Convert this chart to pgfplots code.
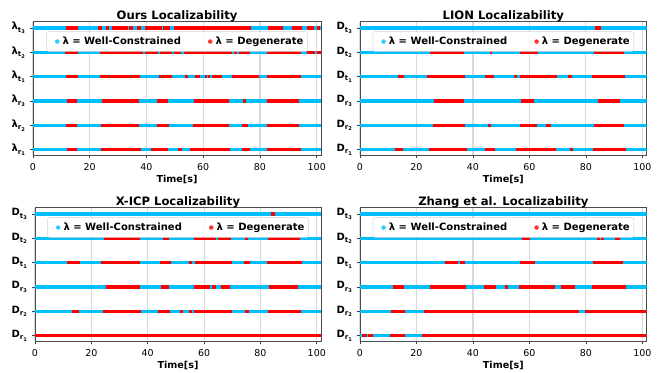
\documentclass[border=0pt]{standalone}
\usepackage{fontspec}
\setmainfont{DejaVu Sans}
\usepackage{pgfplots}
\pgfplotsset{compat=1.18}
\definecolor{cblue}{RGB}{0,191,255}
\definecolor{cred}{RGB}{255,0,0}
\newcommand{\lab}[3]{\textbf{#1\raisebox{-0.45ex}{\fontsize{5.2}{6}\selectfont\bfseries #2\raisebox{-0.35ex}{\fontsize{3.8}{4}\selectfont\bfseries #3}}}}
\pgfplotsset{
  loc/.style={
    scale only axis, width=215pt, height=100pt, anchor=south west,
    xmin=0, xmax=101.5, ymin=-0.22, ymax=5.26,
    xtick={0,20,...,100}, ytick={0,...,5},
    xmajorgrids, grid style={gray!30, line width=0.8pt},
    tick align=outside, tick pos=left, major tick length=2.6pt,
    tick style={black!75, line width=0.5pt},
    axis line style={black!70, line width=0.6pt},
    unbounded coords=jump,
    /pgf/number format/assume math mode=true,
    xticklabel style={font=\fontsize{7.1}{8}\selectfont},
    yticklabel style={font=\fontsize{7.5}{9}\selectfont},
    xlabel={\textbf{Time[s]}},
    xlabel style={font=\fontsize{7.2}{8}\selectfont, yshift=3pt},
    title style={font=\bfseries\fontsize{8.7}{10}\selectfont, yshift=-9.5pt},
    legend columns=2,
    legend style={at={(0.5,0.927)}, anchor=north, draw=gray!35, rounded corners=1.5pt,
      fill=white, fill opacity=0.8, text opacity=1, inner xsep=1pt, inner ysep=1.8pt,
      font=\bfseries\fontsize{7.5}{8.5}\selectfont,
      /tikz/every even column/.append style={column sep=13pt}},
    legend image code/.code={\path[draw=none,fill=none] (0pt,0pt) rectangle (9pt,0pt); \fill[##1, draw=none, rounded corners=0pt] (7pt,0pt) circle (1.7pt);},
    bl/.style={cblue, line width=2.4pt, forget plot},
    rd/.style={cred, line width=2.4pt, forget plot},
  }
}
\begin{document}
\begin{tikzpicture}
\useasboundingbox (0,0) rectangle (504pt,279pt);
% ---------------- Ours ----------------
\begin{axis}[loc, at={(24.75pt,162.75pt)}, width=216pt, title={Ours Localizability},
  yticklabels={\lab{λ}{r}{1},\lab{λ}{r}{2},\lab{λ}{r}{3},\lab{λ}{t}{1},\lab{λ}{t}{2},\lab{λ}{t}{3}}]
\addlegendimage{cblue}\addlegendentry{λ = Well-Constrained}
\addlegendimage{cred}\addlegendentry{λ = Degenerate}
\addplot[bl] coordinates {(0,0) (101.5,0)};
\addplot[bl] coordinates {(0,1) (101.5,1)};
\addplot[bl] coordinates {(0,2) (101.5,2)};
\addplot[bl] coordinates {(0,3) (101.5,3)};
\addplot[bl] coordinates {(0,4) (101.5,4)};
\addplot[bl] coordinates {(0,5) (101.5,5)};
\addplot[rd] coordinates {(11.5,5) (15.9,5) (0,nan) (23.0,5) (24.4,5) (0,nan) (25.9,5) (26.8,5) (0,nan) (27.7,5) (33.5,5) (0,nan) (34.0,5) (35.3,5) (0,nan) (36.5,5) (37.9,5) (0,nan) (39.6,5) (45.3,5) (0,nan) (45.7,5) (48.4,5) (0,nan) (49.6,5) (76.8,5) (0,nan) (82.8,5) (88.0,5) (0,nan) (91.4,5) (94.7,5) (0,nan) (96.7,5) (99.1,5) (0,nan) (100,5) (101.2,5)};
\addplot[rd] coordinates {(11.4,4) (15.9,4) (0,nan) (23.5,4) (38.8,4) (0,nan) (39.4,4) (44.2,4) (0,nan) (44.7,4) (49.0,4) (0,nan) (49.8,4) (52.3,4) (0,nan) (53.3,4) (70.3,4) (0,nan) (70.8,4) (71.9,4) (0,nan) (72.6,4) (76.4,4) (0,nan) (82.3,4) (94.6,4) (0,nan) (96.4,4) (99.3,4) (0,nan) (100,4) (101.4,4)};
\addplot[rd] coordinates {(11.5,3) (15.9,3) (0,nan) (23.5,3) (37.8,3) (0,nan) (44.4,3) (48.9,3) (0,nan) (53.7,3) (54.6,3) (0,nan) (57.0,3) (59.0,3) (0,nan) (60.6,3) (61.3,3) (0,nan) (61.8,3) (62.5,3) (0,nan) (63.0,3) (66.6,3) (0,nan) (70.1,3) (79.7,3) (0,nan) (82.4,3) (94.5,3)};
\addplot[rd] coordinates {(12.1,2) (15.4,2) (0,nan) (24.2,2) (37.4,2) (0,nan) (43.8,2) (47.5,2) (0,nan) (56.6,2) (69.0,2) (0,nan) (73.9,2) (75.0,2) (0,nan) (82.5,2) (93.8,2)};
\addplot[rd] coordinates {(11.8,1) (15.4,1) (0,nan) (24.1,1) (37.4,1) (0,nan) (43.7,1) (47.8,1) (0,nan) (56.5,1) (69.0,1) (0,nan) (73.6,1) (75.6,1) (0,nan) (82.4,1) (93.7,1)};
\addplot[rd] coordinates {(12.0,0) (15.6,0) (0,nan) (23.9,0) (38.0,0) (0,nan) (41.6,0) (47.7,0) (0,nan) (51.0,0) (52.4,0) (0,nan) (55.2,0) (69.3,0) (0,nan) (73.8,0) (76.4,0) (0,nan) (82.5,0) (94.4,0)};
\end{axis}
% ---------------- LION ----------------
\begin{axis}[loc, at={(270pt,162.75pt)}, title={LION Localizability},
  yticklabels={\lab{D}{r}{1},\lab{D}{r}{2},\lab{D}{r}{3},\lab{D}{t}{1},\lab{D}{t}{2},\lab{D}{t}{3}}]
\addlegendimage{cblue}\addlegendentry{λ = Well-Constrained}
\addlegendimage{cred}\addlegendentry{λ = Degenerate}
\addplot[bl] coordinates {(0,0) (101.5,0)};
\addplot[bl] coordinates {(0,1) (101.5,1)};
\addplot[bl] coordinates {(0,2) (101.5,2)};
\addplot[bl] coordinates {(0,3) (101.5,3)};
\addplot[bl] coordinates {(0,4) (101.5,4)};
\addplot[bl] coordinates {(0,5) (101.5,5)};
\addplot[rd] coordinates {(83.2,5) (85.4,5)};
\addplot[rd] coordinates {(24.7,4) (36.9,4) (0,nan) (45.9,4) (46.8,4) (0,nan) (56.6,4) (63.1,4) (0,nan) (83.0,4) (93.5,4)};
\addplot[rd] coordinates {(13.4,3) (15.5,3) (0,nan) (23.6,3) (37.2,3) (0,nan) (44.1,3) (47.5,3) (0,nan) (54.5,3) (55.6,3) (0,nan) (56.6,3) (69.6,3) (0,nan) (73.8,3) (74.9,3) (0,nan) (82.3,3) (93.7,3)};
\addplot[rd] coordinates {(26.1,2) (36.8,2) (0,nan) (56.9,2) (61.7,2) (0,nan) (84.4,2) (92.2,2)};
\addplot[rd] coordinates {(26.0,1) (37.3,1) (0,nan) (45.3,1) (46.4,1) (0,nan) (56.8,1) (62.6,1) (0,nan) (65.7,1) (67.8,1) (0,nan) (83.0,1) (93.6,1)};
\addplot[rd] coordinates {(12.3,0) (15.4,0) (0,nan) (24.4,0) (37.8,0) (0,nan) (44.1,0) (47.7,0) (0,nan) (55.1,0) (69.5,0) (0,nan) (74.2,0) (75.3,0) (0,nan) (82.6,0) (94.3,0)};
\end{axis}
% ---------------- X-ICP ----------------
\begin{axis}[loc, at={(26.25pt,23.25pt)}, width=214.5pt, title={X-ICP Localizability},
  yticklabels={\lab{D}{r}{1},\lab{D}{r}{2},\lab{D}{r}{3},\lab{D}{t}{1},\lab{D}{t}{2},\lab{D}{t}{3}}]
\addlegendimage{cblue}\addlegendentry{λ = Well-Constrained}
\addlegendimage{cred}\addlegendentry{λ = Degenerate}
\addplot[bl] coordinates {(0,1) (101.5,1)};
\addplot[bl] coordinates {(0,2) (101.5,2)};
\addplot[bl] coordinates {(0,3) (101.5,3)};
\addplot[bl] coordinates {(0,4) (101.5,4)};
\addplot[bl] coordinates {(0,5) (101.5,5)};
\addplot[rd] coordinates {(83.6,5) (85.0,5)};
\addplot[rd] coordinates {(24.4,4) (37.4,4) (0,nan) (45.4,4) (47.5,4) (0,nan) (56.6,4) (64.4,4) (0,nan) (64.9,4) (69.4,4) (0,nan) (74.5,4) (75.6,4) (0,nan) (82.8,4) (93.9,4)};
\addplot[rd] coordinates {(11.4,3) (15.8,3) (0,nan) (23.5,3) (37.4,3) (0,nan) (44.4,3) (48.1,3) (0,nan) (54.5,3) (55.6,3) (0,nan) (56.8,3) (69.9,3) (0,nan) (74.1,3) (76.4,3) (0,nan) (82.3,3) (94.6,3)};
\addplot[rd] coordinates {(25.2,2) (37.3,2) (0,nan) (44.6,2) (47.5,2) (0,nan) (56.5,2) (62.1,2) (0,nan) (62.9,2) (64.1,2) (0,nan) (66.0,2) (69.1,2) (0,nan) (83.1,2) (93.5,2)};
\addplot[rd] coordinates {(13.2,1) (15.6,1) (0,nan) (24.0,1) (37.5,1) (0,nan) (43.6,1) (47.9,1) (0,nan) (51.3,1) (52.4,1) (0,nan) (54.5,1) (55.6,1) (0,nan) (56.6,1) (69.9,1) (0,nan) (74.4,1) (75.9,1) (0,nan) (82.7,1) (94.5,1)};
\addplot[rd] coordinates {(0,0) (101.5,0)};
\end{axis}
% ---------------- Zhang ----------------
\begin{axis}[loc, at={(270pt,23.25pt)}, title={Zhang et al. Localizability},
  yticklabels={\lab{D}{r}{1},\lab{D}{r}{2},\lab{D}{r}{3},\lab{D}{t}{1},\lab{D}{t}{2},\lab{D}{t}{3}}]
\addlegendimage{cblue}\addlegendentry{λ = Well-Constrained}
\addlegendimage{cred}\addlegendentry{λ = Degenerate}
\addplot[bl] coordinates {(0,0) (101.5,0)};
\addplot[bl] coordinates {(0,1) (101.5,1)};
\addplot[bl] coordinates {(0,2) (101.5,2)};
\addplot[bl] coordinates {(0,3) (101.5,3)};
\addplot[bl] coordinates {(0,4) (101.5,4)};
\addplot[bl] coordinates {(0,5) (101.5,5)};
\addplot[rd] coordinates {(57.2,4) (60.3,4) (0,nan) (83.8,4) (85.0,4) (0,nan) (85.2,4) (86.3,4) (0,nan) (90.3,4) (92.0,4)};
\addplot[rd] coordinates {(30.1,3) (34.8,3) (0,nan) (35.4,3) (37.0,3) (0,nan) (56.7,3) (61.8,3) (0,nan) (82.6,3) (84.8,3) (0,nan) (85.1,3) (93.2,3)};
\addplot[rd] coordinates {(11.6,2) (15.5,2) (0,nan) (24.7,2) (37.7,2) (0,nan) (43.8,2) (48.1,2) (0,nan) (51.4,2) (52.5,2) (0,nan) (56.2,2) (69.2,2) (0,nan) (71.3,2) (76.2,2) (0,nan) (82.2,2) (94.2,2)};
\addplot[rd] coordinates {(10.9,1) (15.9,1) (0,nan) (22.6,1) (77.6,1) (0,nan) (79.8,1) (101.5,1)};
\addplot[rd] coordinates {(0.8,0) (2.4,0) (0,nan) (2.8,0) (4.6,0) (0,nan) (10.6,0) (16.1,0) (0,nan) (22.1,0) (101.5,0)};
\end{axis}
\end{tikzpicture}
\end{document}
